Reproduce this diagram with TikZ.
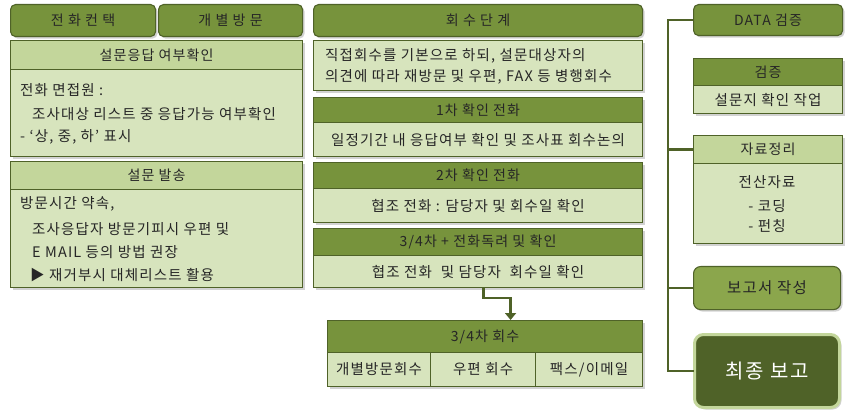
\documentclass[tikz,border=0pt]{standalone}
\usepackage{fontspec}
\setmainfont[LetterSpace=8]{Noto Sans CJK KR}
\usetikzlibrary{shadows,arrows.meta}
\definecolor{cOl}{HTML}{77933C}
\definecolor{cDk}{HTML}{4F6228}
\definecolor{cLt}{HTML}{D7E4BD}
\definecolor{cMid}{HTML}{C3D69B}
\definecolor{cRpt}{HTML}{8BA64C}
\definecolor{cTxt}{HTML}{262626}
\begin{document}
\begin{tikzpicture}[x=1pt,y=-1pt,
  sz/.style 2 args={minimum width=#1pt, minimum height=#2pt},
  box/.style={draw=cDk, line width=1.1pt, inner sep=0pt, anchor=north west, text=cTxt,
    drop shadow={opacity=0.35, shadow xshift=2pt, shadow yshift=-2pt}},
  btn/.style={box, fill=cOl, rounded corners=5pt, font=\fontsize{14}{16}\selectfont},
  dkhdr/.style={box, fill=cOl, font=\fontsize{14}{16}\selectfont},
  lthdr/.style={box, fill=cMid, font=\fontsize{14}{16}\selectfont},
  bodyb/.style={box, fill=cLt, font=\fontsize{14.5}{16}\selectfont},
  txt/.style={anchor=west, inner sep=0pt, text=cTxt, font=\fontsize{14.5}{16}\selectfont},
  ctxt/.style={anchor=center, inner sep=0pt, text=cTxt, font=\fontsize{14.5}{16}\selectfont},
  conn/.style={draw=cDk, line width=2.6pt},
]
\useasboundingbox (0,0) rectangle (845,419);
\fill[white] (0,0) rectangle (845,419);

% ---------- left column ----------
\node[btn, sz={145}{32}] (a1) at (10,4) {전 화 컨 택};
\node[btn, sz={144}{32}] (a2) at (158,4) {개 별 방 문};

\node[lthdr, sz={292}{29}] (s1h) at (10,40) {설문응답 여부확인};
\node[bodyb, sz={292}{87}] (s1b) at (10,69) {};
\node[txt] (s1t1) at (20,90) {전화 면접원 :};
\node[txt] (s1t2) at (32,114) {조사대상 리스트 중 응답가능 여부확인};
\node[txt] (s1t3) at (20,137) {- ‘상, 중, 하’ 표시};

\node[lthdr, sz={292}{28}] (s2h) at (10,161) {설문 발송};
\node[bodyb, sz={292}{98}] (s2b) at (10,189) {};
\node[txt] (s2t1) at (20,204) {방문시간 약속,};
\node[txt] (s2t2) at (32,229) {조사응답자 방문기피시 우편 및};
\node[txt] (s2t3) at (32,252) {E MAIL 등의 방법 권장};
\node[txt] (s2t4) at (30,275) {▶ 재거부시 대체리스트 활용};

% ---------- middle column ----------
\node[btn, sz={329}{32}] (m0) at (313,4) {회 수 단 계};
\node[bodyb, sz={329}{50}] (m1) at (313,40) {};
\node[txt] (m1t1) at (325,56) {직접회수를 기본으로 하되, 설문대상자의};
\node[txt] (m1t2) at (325,77) {의견에 따라 재방문 및 우편, FAX 등 병행회수};

\node[dkhdr, sz={329}{25}] (m2h) at (313,97) {1차 확인 전화};
\node[bodyb, sz={329}{34}] (m2b) at (313,122) {일정기간 내 응답여부 확인 및 조사표 회수논의};

\node[dkhdr, sz={329}{26}] (m3h) at (313,162) {2차 확인 전화};
\node[bodyb, sz={329}{34}] (m3b) at (313,188) {협조 전화 : 담당자 및 회수일 확인};

\node[dkhdr, sz={329}{27}] (m4h) at (313,228) {3/4차 + 전화독려 및 확인};
\node[bodyb, sz={329}{32}] (m4b) at (313,255) {협조 전화 \ 및 담당자 \ 회수일 확인};

\node[dkhdr, sz={315}{32}] (r0) at (327,320) {3/4차 회수};
\node[bodyb, sz={103}{34}] (r1) at (327,352) {개별방문회수};
\node[bodyb, sz={105}{34}] (r2) at (430,352) {우편 회수};
\node[bodyb, sz={107}{34}] (r3) at (535,352) {팩스/이메일};

\draw[conn, -{Triangle[length=7pt,width=11pt]}] ([xshift=5.5pt]m4b.south) -- ++(0,10) -| ([xshift=25.5pt]r0.north);

% ---------- right column ----------
\node[btn, sz={149}{31}] (dv) at (693,4) {DATA 검증};
\node[dkhdr, sz={149}{27}] (gzh) at (693,58) {검증};
\node[bodyb, sz={149}{28}] (gzb) at (693,85) {설문지 확인 작업};

\node[lthdr, sz={149}{28}] (jrh) at (693,135) {자료정리};
\node[bodyb, sz={149}{80}] (jrb) at (693,163) {};
\node[ctxt] (jrt1) at (767,182) {전산자료};
\node[ctxt] (jrt2) at (767,206) {- 코딩};
\node[ctxt] (jrt3) at (767,226) {- 펀칭};

\node[btn, fill=cRpt, sz={147}{43}, rounded corners=7pt, font=\fontsize{15.5}{18}\selectfont] (rpt) at (693,266) {보고서 작성};
\node[box, fill=cDk, draw=cMid, line width=3pt, rounded corners=9pt, sz={145}{73},
      text=white, font=\fontsize{20}{22}\selectfont] (fin) at (693,333) {최종 보고};

\coordinate (vt) at (668,0);
\draw[conn, line cap=rect] (dv.west) -- (dv.west -| vt) |- (fin.west);
\draw[conn] (jrh.west) -- (jrh.west -| vt);
\draw[conn] (rpt.west) -- (rpt.west -| vt);
\end{tikzpicture}
\end{document}
